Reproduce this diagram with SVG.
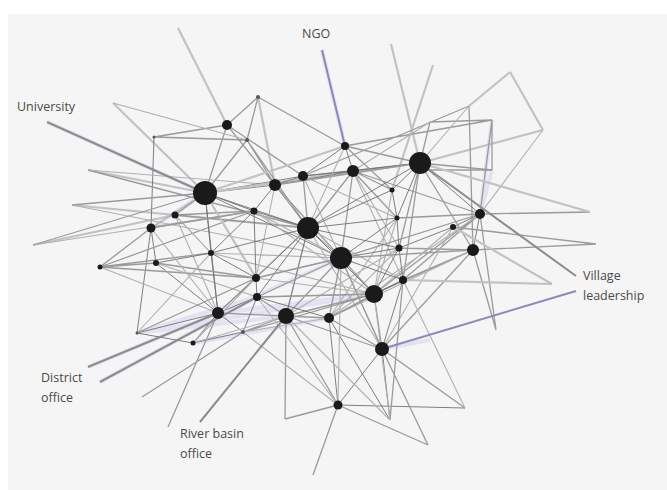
<svg xmlns="http://www.w3.org/2000/svg" width="667" height="490" viewBox="0 0 667 490">
<style>
.t{stroke:#707070;stroke-width:0.9;fill:none}
.m{stroke:#9a9a9a;stroke-width:1.3;fill:none}
.x{stroke:#b0b0b0;stroke-width:1.1;fill:none}
.w{stroke:#c2c2c2;stroke-width:2.2;fill:none}
.lv{stroke:#d2d2f0;stroke-width:4;opacity:0.55;fill:none}
.ld{stroke:#8c8c8c;stroke-width:2;fill:none}
.ldb{stroke:#8a8ab8;stroke-width:2;fill:none}
.nd{fill:#1a1a1a}
.sm{fill:#555}
.lb{font-family:"Open Sans","DejaVu Sans",sans-serif;font-size:12.5px;fill:#4a4a4a}
</style>
<rect x="0" y="0" width="667" height="490" fill="#ffffff"/>
<rect x="8" y="14" width="659" height="476" fill="#f5f5f5"/>
<g id="connectors">
<!-- lavender tints -->
<path class="lv" d="M137,333 L286,316 M137,333 L374,294 M218,313 L374,294 M88,367 L218,313 M100,382 L257,297 M218,313 L341,258 M47,122 L205,193 M492,170 L480,214 M137,333 L257,297 M322,50 L345,146 M193,343 L329,318 M205,193 L151,228 M480,214 L492,120 M382,349 L430,340"/>
<!-- top -->
<path class="w" d="M178,28 L227,125 M113,103 L205,193 M88,170 L205,193 M72,205 L308,228 M33,245 L175,215 M258,97 L275,185 M391,44 L420,163 M433,65 L392,190 M510,72 L469,106 M510,72 L543,130 M543,130 L420,163"/>
<path class="m" d="M227,125 L258,97 M154,137 L227,125 M258,97 L247,140 M258,97 L345,146 M227,125 L205,193 M227,125 L275,185 M227,125 L303,176 M247,140 L205,193 M247,140 L275,185 M247,140 L308,228 M154,137 L247,140 M469,106 L473,250 M469,106 L303,176 M430,122 L492,120 M492,120 L492,170 M430,170 L492,170 M492,120 L480,214 M492,120 L345,146 M430,122 L420,163"/>
<path class="t" d="M154,137 L151,228 M151,228 L156,263 M156,263 L218,313 M151,228 L137,333 M137,333 L218,313"/>
<!-- left -->
<path class="m" d="M100,267 L151,228 M100,267 L254,211 M100,267 L211,253 M100,267 L256,278 M100,267 L156,263 M175,215 L205,193 M175,215 L254,211 M175,215 L308,228 M72,205 L205,193 M88,170 L308,228 M33,245 L205,193"/>
<path class="x" d="M100,267 L218,313 M156,263 L257,297 M175,215 L211,253 M175,215 L218,313 M151,228 L205,193 M151,228 L254,211 M72,205 L341,258 M33,245 L254,211 M88,170 L275,185 M113,103 L247,140"/>
<!-- central hub A -->
<path class="t" d="M205,193 L275,185 M205,193 L303,176 M205,193 L308,228 M205,193 L254,211 M205,193 L211,253 M205,193 L218,313 M205,193 L341,258"/>
<path class="w" d="M205,193 L353,171 M205,193 L420,163 M205,193 L256,278 M205,193 L345,146"/>
<!-- I, K, M, J -->
<path class="t" d="M275,185 L303,176 M275,185 L353,171 M275,185 L308,228 M275,185 L254,211 M303,176 L353,171 M303,176 L345,146 M345,146 L353,171 M353,171 L420,163 M303,176 L420,163"/>
<path class="m" d="M275,185 L341,258 M275,185 L420,163 M303,176 L308,228 M345,146 L420,163 M345,146 L392,190 M353,171 L308,228 M353,171 L341,258 M353,171 L392,190 M353,171 L397,218 M353,171 L480,214"/>
<path class="x" d="M303,176 L341,258 M275,185 L256,278 M254,211 L341,258 M254,211 L374,294 M211,253 L341,258 M211,253 L374,294 M256,278 L341,258 M256,278 L374,294 M257,297 L374,294 M218,313 L308,228 M286,316 L308,228 M286,316 L399,248 M329,318 L399,248 M329,318 L397,218 M374,294 L397,218 M374,294 L392,190 M382,349 L341,258 M382,349 L308,228 M403,280 L308,228 M403,280 L353,171 M399,248 L353,171 M303,176 L397,218 M345,146 L308,228"/>
<!-- D and right -->
<path class="t" d="M420,163 L480,214 M420,163 L392,190 M420,163 L397,218 M420,163 L308,228 M480,214 L473,250 M480,214 L453,227 M453,227 L399,248"/>
<path class="m" d="M420,163 L473,250 M420,163 L399,248 M420,163 L403,280 M480,214 L590,212 M480,214 L397,218 M480,214 L341,258 M480,214 L374,294 M480,214 L403,280 M480,214 L496,330 M473,250 L596,244 M473,250 L403,280 M473,250 L341,258 M473,250 L374,294 M473,250 L382,349 M473,250 L399,248 M473,250 L496,330 M453,227 L596,244 M420,163 L492,170"/>
<path class="x" d="M453,227 L374,294 M453,227 L382,349 M473,250 L329,318 M480,214 L329,318 M430,122 L353,171 M469,106 L420,163 M543,130 L480,214"/>
<path class="w" d="M403,280 L552,284 M453,227 L552,284 M420,163 L590,212"/>
<!-- middle -->
<path class="t" d="M403,280 L374,294 M403,280 L341,258 M403,280 L399,248 M403,280 L382,349 M403,280 L329,318 M399,248 L341,258 M399,248 L397,218 M399,248 L374,294 M399,248 L308,228 M397,218 L308,228 M397,218 L341,258 M397,218 L392,190 M392,190 L308,228 M308,228 L341,258 M308,228 L254,211 M308,228 L256,278 M308,228 L374,294 M308,228 L286,316 M308,228 L211,253 M308,228 L257,297"/>
<path class="m" d="M341,258 L374,294 M341,258 L329,318 M341,258 L286,316 M341,258 L256,278 M341,258 L257,297 M341,258 L382,349 M374,294 L382,349 M374,294 L329,318 M374,294 L286,316 M374,294 L257,297 M374,294 L243,332 M286,316 L329,318 M286,316 L257,297 M286,316 L218,313 M286,316 L243,332 M286,316 L338,405 M286,316 L382,349"/>
<!-- bottom -->
<path class="t" d="M382,349 L338,405 M338,405 L465,408 M382,349 L390,420 M329,318 L390,420 M329,318 L257,297 M338,405 L329,318"/>
<path class="m" d="M382,349 L465,408 M382,349 L428,445 M338,405 L428,445 M338,405 L313,475 M338,405 L285,419 M286,316 L285,419 M403,280 L390,420 M382,349 L329,318"/>
<path class="x" d="M374,294 L390,420 M257,297 L338,405 M243,332 L338,405 M341,258 L338,405 M403,280 L465,408 M286,316 L390,420"/>
<!-- lower left -->
<path class="t" d="M218,313 L257,297 M218,313 L256,278 M218,313 L243,332 M218,313 L193,343 M218,313 L211,253 M256,278 L257,297 M256,278 L254,211 M256,278 L211,253 M254,211 L211,253 M211,253 L156,263 M193,343 L137,333 M193,343 L243,332 M243,332 L257,297"/>
<path class="m" d="M168,427 L218,313 M142,397 L243,332 M137,333 L256,278 M151,228 L254,211 M156,263 L256,278"/>
<path class="x" d="M137,333 L211,253 M193,343 L256,278 M193,343 L286,316 M243,332 L329,318 M151,228 L218,313"/>
<!-- label leaders -->
<path class="ld" d="M47,122 L205,193 M576,276 L420,163 M88,367 L218,313 M100,382 L257,297 M200,422 L286,316"/>
<path class="ldb" d="M322,50 L345,146 M576,291 L382,349"/>
</g>
<g id="nodes">
<g id="nA"><circle class="nd" cx="205" cy="193" r="12"/></g>
<g id="nB"><circle class="nd" cx="308" cy="228" r="11"/></g>
<g id="nC"><circle class="nd" cx="341" cy="258" r="11"/></g>
<g id="nD"><circle class="nd" cx="420" cy="163" r="11"/></g>
<g id="nE"><circle class="nd" cx="374" cy="294" r="9"/></g>
<g id="nF"><circle class="nd" cx="286" cy="316" r="8"/></g>
<g id="nG"><circle class="nd" cx="382" cy="349" r="7"/></g>
<g id="nH"><circle class="nd" cx="218" cy="313" r="6"/></g>
<g id="nI"><circle class="nd" cx="275" cy="185" r="6"/></g>
<g id="nJ"><circle class="nd" cx="353" cy="171" r="6"/></g>
<g id="nK"><circle class="nd" cx="303" cy="176" r="5"/></g>
<g id="nL"><circle class="nd" cx="227" cy="125" r="5"/></g>
<g id="nM"><circle class="nd" cx="345" cy="146" r="4"/></g>
<g id="nN"><circle class="nd" cx="480" cy="214" r="5"/></g>
<g id="nO"><circle class="nd" cx="473" cy="250" r="6"/></g>
<g id="nP"><circle class="nd" cx="151" cy="228" r="4.5"/></g>
<g id="nQ"><circle class="nd" cx="254" cy="211" r="3.5"/></g>
<g id="nR"><circle class="nd" cx="175" cy="215" r="3.5"/></g>
<g id="nS"><circle class="nd" cx="338" cy="405" r="4.5"/></g>
<g id="nT"><circle class="nd" cx="403" cy="280" r="4"/></g>
<g id="nU"><circle class="nd" cx="329" cy="318" r="5"/></g>
<g id="nV"><circle class="nd" cx="256" cy="278" r="4"/></g>
<g id="nW"><circle class="nd" cx="257" cy="297" r="4"/></g>
<g id="nX"><circle class="nd" cx="100" cy="267" r="2.5"/></g>
<g id="nY"><circle class="nd" cx="156" cy="263" r="3"/></g>
<g id="na"><circle class="nd" cx="399" cy="248" r="3.5"/></g>
<g id="nb"><circle class="nd" cx="397" cy="218" r="2.5"/></g>
<g id="nc"><circle class="nd" cx="392" cy="190" r="2.5"/></g>
<g id="nd"><circle class="nd" cx="211" cy="253" r="3"/></g>
<g id="ne"><circle class="sm" cx="247" cy="140" r="2"/></g>
<g id="nf"><circle class="sm" cx="258" cy="97" r="2"/></g>
<g id="ng"><circle class="sm" cx="154" cy="137" r="1.5"/></g>
<g id="nh"><circle class="sm" cx="137" cy="333" r="1.5"/></g>
<g id="ni"><circle class="nd" cx="193" cy="343" r="2.5"/></g>
<g id="nj"><circle class="sm" cx="243" cy="332" r="2"/></g>
<g id="nk"><circle class="nd" cx="453" cy="227" r="3"/></g>
</g>
<g id="labels">
<g id="lNGO"><text class="lb" x="302" y="38">NGO</text></g>
<g id="lUniversity"><text class="lb" x="17" y="111">University</text></g>
<g id="lVillage"><text class="lb" x="583" y="280">Village</text><text class="lb" x="583" y="300">leadership</text></g>
<g id="lDistrict"><text class="lb" x="41" y="382">District</text><text class="lb" x="41" y="402">office</text></g>
<g id="lRiver"><text class="lb" x="180" y="438">River basin</text><text class="lb" x="180" y="458">office</text></g>
</g>
</svg>
